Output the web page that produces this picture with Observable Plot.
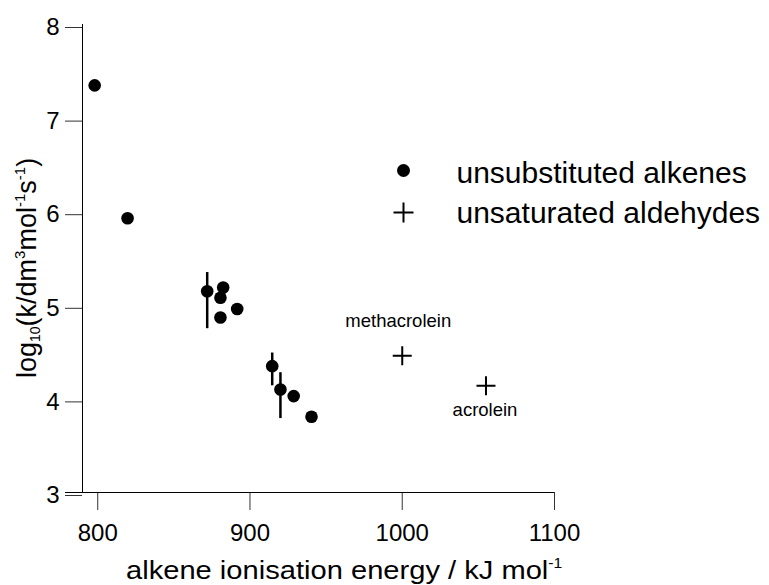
<!DOCTYPE html>
<html>
<head>
<meta charset="utf-8">
<script src="https://cdn.jsdelivr.net/npm/d3@7"></script>
<script src="https://cdn.jsdelivr.net/npm/@observablehq/plot@0.6"></script>
<style>
  html, body { margin: 0; padding: 0; background: white; }
  svg { display: block; }
</style>
</head>
<body>
<div id="chart"></div>
<script>
// ---- data ----
const xDomain = [790, 1100];
const yDomain = [3, 8];
const xTicks = [800, 900, 1000, 1100];
const yTicks = [3, 4, 5, 6, 7, 8];

// unsubstituted alkenes
const alkeneIE   = [798.0, 819.6, 871.9, 882.4, 880.6, 891.6, 880.6, 914.6, 920.0, 928.7, 940.4];
const alkeneLogK = [7.35, 5.93, 5.15, 5.19, 5.08, 4.96, 4.87, 4.35, 4.10, 4.03, 3.81];

// error bars on some alkenes
const errIE   = [871.9, 914.6, 920.0];
const errLow  = [4.75, 4.14, 3.79];
const errHigh = [5.35, 4.49, 4.28];

// unsaturated aldehydes
const aldehydeNames = ["methacrolein", "acrolein"];
const aldehydeIE    = [1000, 1055];
const aldehydeLogK  = [4.46, 4.14];

const legendLabels = ["unsubstituted alkenes", "unsaturated aldehydes"];

// ---- tables ----
const alkenes = alkeneIE.map((x, i) => ({x, y: alkeneLogK[i]}));
const errs = errIE.map((x, i) => ({x, y1: errLow[i], y2: errHigh[i]}));
const aldehydes = aldehydeIE.map((x, i) => ({x, y: aldehydeLogK[i], name: aldehydeNames[i]}));

const plusSymbol = {
  draw(ctx, size) {
    const r = Math.sqrt(size / Math.PI);
    ctx.moveTo(-r, 0); ctx.lineTo(r, 0);
    ctx.moveTo(0, -r); ctx.lineTo(0, r);
  }
};

const FONT = "'Liberation Sans', Arial, Helvetica, sans-serif";
const fmt = d => String(d);

const chart = Plot.plot({
  width: 769,
  height: 585,
  marginLeft: 82,
  marginRight: 215,
  marginTop: 24,
  marginBottom: 93,
  style: {fontFamily: FONT, fontSize: "24px", background: "white", color: "black"},
  x: {domain: xDomain, label: null},
  y: {domain: yDomain, label: null},
  marks: [
    Plot.axisX(xTicks, {anchor: "bottom", tickSize: 18, tickPadding: 13, fontSize: 24, stroke: "#333", tickFormat: fmt, label: null}),
    Plot.axisY(yTicks, {anchor: "left", tickSize: 17, tickPadding: 6, fontSize: 24, stroke: "#333", dy: 3, tickFormat: fmt, label: null}),
    Plot.ruleX([xDomain[0]], {stroke: "black", strokeWidth: 1}),
    Plot.ruleY([yDomain[0]], {stroke: "black", strokeWidth: 1, insetLeft: -17}),
    Plot.ruleX(errs, {x: "x", y1: "y1", y2: "y2", stroke: "black", strokeWidth: 2.5}),
    Plot.dot(alkenes, {x: "x", y: "y", r: 6.3, fill: "black", stroke: "none"}),
    Plot.dot(aldehydes, {x: "x", y: "y", symbol: plusSymbol, r: 9.5, stroke: "black", strokeWidth: 2, fill: "none"}),
    Plot.text(aldehydes.slice(0, 1), {x: "x", y: "y", text: "name", fontSize: 18.5, dx: -4, dy: -35, fill: "black"}),
    Plot.text(aldehydes.slice(1, 2), {x: "x", y: "y", text: "name", fontSize: 18.5, dx: -1, dy: 24, fill: "black"}),
    // legend
    Plot.dot([legendLabels[0]], {frameAnchor: "top-left", dx: 321, dy: 146, r: 6.5, fill: "black", stroke: "none"}),
    Plot.dot([legendLabels[1]], {frameAnchor: "top-left", dx: 321, dy: 188, symbol: plusSymbol, r: 10, stroke: "black", strokeWidth: 2, fill: "none"}),
    Plot.text([legendLabels[0]], {frameAnchor: "top-left", lineAnchor: "middle", text: d => d, dx: 374, dy: 149, fontSize: 30, textAnchor: "start", fill: "black"}),
    Plot.text([legendLabels[1]], {frameAnchor: "top-left", lineAnchor: "middle", text: d => d, dx: 374, dy: 189, fontSize: 30, textAnchor: "start", fill: "black"})
  ]
});

document.getElementById("chart").appendChild(chart);

// axis titles with sub/superscripts
const svg = d3.select(chart);
const xt = svg.append("text")
  .attr("transform", "translate(126,579) scale(1.12,1)").attr("text-anchor", "start")
  .attr("font-family", FONT).attr("font-size", 26).attr("fill", "black");
xt.append("tspan").text("alkene ionisation energy / kJ mol");
xt.append("tspan").attr("dy", -11).attr("font-size", 14).text("-1");

const yt = svg.append("text")
  .attr("transform", "translate(36,378) rotate(-90)").attr("text-anchor", "start")
  .attr("font-family", FONT).attr("font-size", 27).attr("fill", "black");
yt.append("tspan").text("log");
yt.append("tspan").attr("dy", 4).attr("font-size", 14).text("10");
yt.append("tspan").attr("dy", -4).text("(k/dm");
yt.append("tspan").attr("dy", -11).attr("font-size", 15).text("3");
yt.append("tspan").attr("dy", 11).text("mol");
yt.append("tspan").attr("dy", -11).attr("font-size", 15).text("-1");
yt.append("tspan").attr("dy", 11).text("s");
yt.append("tspan").attr("dy", -11).attr("font-size", 15).text("-1");
yt.append("tspan").attr("dy", 11).text(")");
</script>
</body>
</html>
